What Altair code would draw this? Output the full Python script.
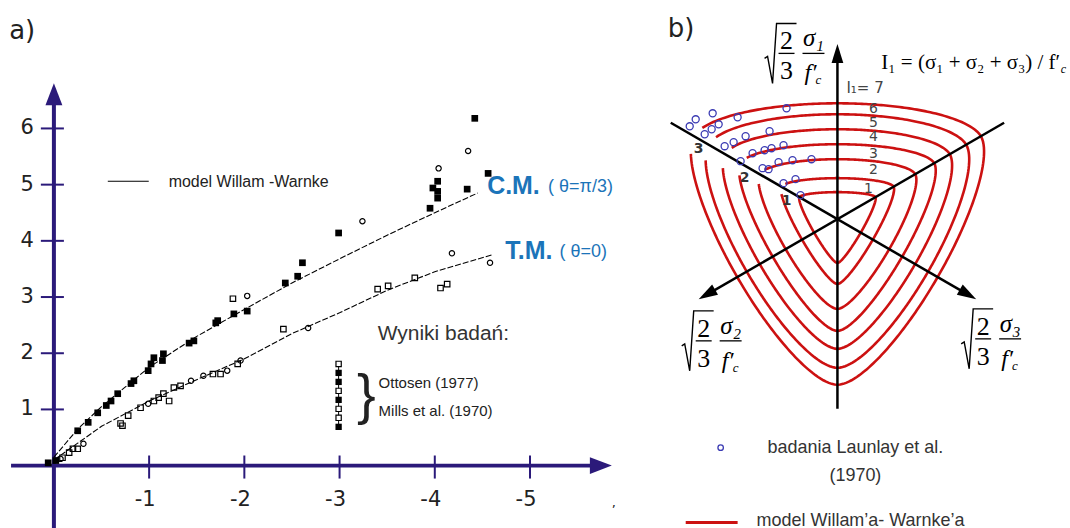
import altair as alt
import numpy as np
import pandas as pd

NAVY = "#2b1a7a"
BLUE = "#1b74b9"
RED = "#cc1111"
PT_BLUE = "#3b3bb3"
TXT = "#222222"

# ================= panel a) data =================
cm_x = [0.0, -0.25, -0.5, -1.0, -1.5, -2.0, -2.5, -3.0, -3.5, -4.0, -4.45]
cm_y = [0.15, 0.65, 1.05, 1.75, 2.3, 2.78, 3.25, 3.68, 4.1, 4.5, 4.85]
tm_x = [0.0, -0.25, -0.5, -1.0, -1.5, -2.0, -2.5, -3.0, -3.5, -4.0, -4.6]
tm_y = [0.1, 0.4, 0.7, 1.15, 1.53, 1.9, 2.35, 2.72, 3.12, 3.45, 3.75]

filled_x = [0.06, -0.02, -0.25, -0.36, -0.46, -0.55, -0.60, -0.67, -0.81, -0.84, -0.99, -1.02,
            -1.05, -1.14, -1.15, -1.42, -1.47, -1.70, -1.72, -1.89, -2.03, -2.43, -2.56,
            -2.61, -2.99, -3.95, -3.98, -4.03, -4.03, -4.03, -4.34, -4.56, -4.42]
filled_y = [0.05, 0.09, 0.62, 0.77, 0.94, 1.07, 1.15, 1.28, 1.46, 1.51, 1.69, 1.81,
            1.92, 1.87, 1.99, 2.18, 2.22, 2.54, 2.58, 2.70, 2.75, 3.25, 3.37,
            3.61, 4.14, 4.58, 4.94, 5.06, 4.88, 4.76, 4.92, 5.20, 6.18]

open_sq_x = [-0.09, -0.16, -0.20, -0.25, -0.70, -0.72, -0.78, -0.91, -1.05, -1.10, -1.15,
             -1.21, -1.26, -1.33, -1.67, -1.75, -1.93, -2.41, -1.88, -3.40, -3.51, -3.79,
             -4.06, -4.13]
open_sq_y = [0.14, 0.23, 0.30, 0.30, 0.75, 0.71, 0.89, 1.03, 1.15, 1.21, 1.28,
             1.15, 1.39, 1.42, 1.63, 1.63, 1.81, 2.43, 2.97, 3.14, 3.20, 3.34,
             3.16, 3.23]

open_ci_x = [-0.07, -0.31, -0.99, -1.44, -1.57, -1.82, -1.96, -2.67, -2.03, -3.24, -4.04,
             -4.35, -4.18, -4.58]
open_ci_y = [0.12, 0.39, 1.10, 1.51, 1.60, 1.69, 1.87, 2.45, 3.02, 4.35, 5.29,
             5.60, 3.78, 3.61]

xtick_vals = [-1, -2, -3, -4, -5]
xtick_labels = ["-1", "-2", "-3", "-4", "-5"]
ytick_vals = [1, 2, 3, 4, 5, 6]
ytick_labels = ["1", "2", "3", "4", "5", "6"]

# legend glyph column (Ottosen / Mills)
leg_col_y = [1.81, 1.65, 1.49, 1.33, 1.17, 1.01, 0.85, 0.69]
leg_col_kind = ["open", "filled", "filled", "open", "filled", "open", "open", "filled"]

# ================= panel b) data =================
levels = [1, 2, 3, 4, 5, 6, 7]
r_tension = [27, 41, 60, 75, 90, 105, 116]
r_compression = [44, 65, 90, 112, 130, 149, 166]

launay_x = [-148, -142, -125, -100, -51, -133, -126, -119, -113, -104, -92, -68, -97,
            -85, -73, -66, -54, -75, -69, -59, -45, -26, -54, -42, -37]
launay_y = [93, 100, 106, 102, 111, 85, 90, 95, 73, 77, 83, 88, 58,
            66, 69, 71, 74, 51, 50, 57, 59, 60, 36, 40, 24]

level_label_text = ["I\u2081= 7", "6", "5", "4", "3", "2", "1"]

# ================= scales =================
XA = alt.Scale(domain=[0.5556, -6.153], nice=False, zero=False)
YA = alt.Scale(domain=[-1.119, 8.259], nice=False, zero=False)
XB = alt.Scale(domain=[-198, 232], nice=False, zero=False)
YB = alt.Scale(domain=[-310, 218], nice=False, zero=False)


def enc(sx, sy):
    return dict(x=alt.X("x:Q", scale=sx, axis=None), y=alt.Y("y:Q", scale=sy, axis=None))


def rules(df, sx, sy, **kw):
    return alt.Chart(df).mark_rule(**kw).encode(
        x=alt.X("x:Q", scale=sx, axis=None), y=alt.Y("y:Q", scale=sy, axis=None),
        x2="x2:Q", y2="y2:Q")


def texts(xs, ys, labels, sx, sy, **kw):
    df = pd.DataFrame({"x": xs, "y": ys, "t": labels})
    return alt.Chart(df).mark_text(**kw).encode(text="t:N", **enc(sx, sy))


def arrows(xs, ys, angs, sx, sy, shape, size, color):
    df = pd.DataFrame({"x": xs, "y": ys, "ang": angs})
    return alt.Chart(df).mark_point(shape=shape, size=size, filled=True, color=color,
                                     opacity=1, strokeWidth=0).encode(
        angle=alt.Angle("ang:Q", scale=None), **enc(sx, sy))


# ================= panel a) =================
a_layers = []
# axes
a_layers.append(rules(pd.DataFrame({"x": [0, 0.45], "y": [-1.12, 0], "x2": [0, -5.75], "y2": [6.6, 0]}),
                      XA, YA, color=NAVY, strokeWidth=4))
# ticks
a_layers.append(rules(pd.DataFrame({"x": xtick_vals, "x2": xtick_vals, "y": [0.18] * 5, "y2": [-0.23] * 5}),
                      XA, YA, color=NAVY, strokeWidth=2))
a_layers.append(rules(pd.DataFrame({"x": [0.137] * 6, "x2": [-0.105] * 6, "y": ytick_vals, "y2": ytick_vals}),
                      XA, YA, color=NAVY, strokeWidth=2))
a_layers.append(arrows([0, -5.744], [6.607, 0], [0, 90], XA, YA,
                       "M-0.77,1L0,-1L0.77,1Z", 484, NAVY))
# tick labels
a_layers.append(texts(xtick_vals, [-0.62] * 5, xtick_labels, XA, YA, align="center", baseline="middle",
                      dx=-4, font="DejaVu Sans", fontSize=21, color=TXT))
a_layers.append(texts([0.21] * 6, ytick_vals, ytick_labels, XA, YA, align="right", baseline="middle",
                      font="DejaVu Sans", fontSize=21, color=TXT))
# model lines
lines = pd.DataFrame({"x": cm_x + tm_x, "y": cm_y + tm_y,
                      "s": ["CM"] * len(cm_x) + ["TM"] * len(tm_x),
                      "i": list(range(len(cm_x))) + list(range(len(tm_x)))})
a_layers.append(alt.Chart(lines).mark_line(color="black", strokeWidth=1.1, strokeDash=[6, 2]).encode(
    detail="s:N", order="i:Q", **enc(XA, YA)))
# data points
a_layers.append(alt.Chart(pd.DataFrame({"x": filled_x, "y": filled_y})).mark_point(
    shape="square", filled=True, color="black", size=45, opacity=1).encode(**enc(XA, YA)))
a_layers.append(alt.Chart(pd.DataFrame({"x": open_sq_x, "y": open_sq_y})).mark_point(
    shape="square", filled=False, color="black", size=30, strokeWidth=1.2, opacity=1).encode(**enc(XA, YA)))
a_layers.append(alt.Chart(pd.DataFrame({"x": open_ci_x, "y": open_ci_y})).mark_point(
    shape="circle", filled=False, color="black", size=28, strokeWidth=1.2, opacity=1).encode(**enc(XA, YA)))
# legend line + texts
a_layers.append(rules(pd.DataFrame({"x": [-0.566], "x2": [-0.996], "y": [5.06], "y2": [5.06]}),
                      XA, YA, color="black", strokeWidth=1.2))
a_layers.append(texts([-1.205], [5.04], ["model Willam -Warnke"], XA, YA, align="left", baseline="middle",
                      font="Liberation Sans", fontSize=16, color=TXT))
a_layers.append(texts([-4.55, -4.74], [4.97, 3.82], ["C.M.", "T.M."], XA, YA, align="left",
                      baseline="middle", font="Liberation Sans", fontSize=25, fontWeight="bold", color=BLUE))
a_layers.append(texts([-5.19, -5.31], [4.95, 3.80], ["( \u03b8=\u03c0/3)", "( \u03b8=0)"], XA, YA,
                      align="left", baseline="middle", font="Liberation Sans", fontSize=18, color=BLUE))
a_layers.append(texts([-3.40], [2.34], ["Wyniki bada\u0144:"], XA, YA, align="left", baseline="middle",
                      font="Liberation Sans", fontSize=21, color="#333333"))
a_layers.append(texts([-3.41, -3.41], [1.47, 0.98], ["Ottosen (1977)", "Mills et al. (1970)"], XA, YA,
                      align="left", baseline="middle", font="Liberation Sans", fontSize=15, color=TXT))
a_layers.append(texts([-3.28], [1.24], ["}"], XA, YA, align="center", baseline="middle",
                      font="Liberation Sans", fontSize=56, fontWeight=300, color=TXT))
a_layers.append(rules(pd.DataFrame({"x": [-2.99], "x2": [-2.99], "y": [leg_col_y[0]], "y2": [leg_col_y[-1]]}),
                      XA, YA, color="black", strokeWidth=1))
leg_df = pd.DataFrame({"x": [-2.99] * len(leg_col_y), "y": leg_col_y, "k": leg_col_kind})
a_layers.append(alt.Chart(leg_df).transform_filter(alt.datum.k == "filled").mark_point(
    shape="square", filled=True, color="black", size=40, opacity=1).encode(**enc(XA, YA)))
a_layers.append(alt.Chart(leg_df).transform_filter(alt.datum.k == "open").mark_point(
    shape="square", filled=True, fill="white", stroke="black", size=28, strokeWidth=1.2,
    opacity=1).encode(**enc(XA, YA)))
a_layers.append(texts([0.47], [7.73], ["a)"], XA, YA, align="left", baseline="middle",
                      font="DejaVu Sans", fontSize=26, color=TXT))
a_layers.append(texts([-5.88], [-0.67], [","], XA, YA, align="center", baseline="middle",
                      font="DejaVu Sans", fontSize=13, color=TXT))

panel_a = alt.layer(*a_layers).properties(width=640, height=528)


# ================= panel b) =================
def ww_radius(theta, rt, rc):
    c = np.cos(theta)
    a = rc ** 2 - rt ** 2
    num = 2 * rc * a * c + rc * (2 * rt - rc) * np.sqrt(4 * a * c ** 2 + 5 * rt ** 2 - 4 * rt * rc)
    den = 4 * a * c ** 2 + (rc - 2 * rt) ** 2
    return num / den


rows = []
for lv, rt, rc in zip(levels, r_tension, r_compression):
    phis = np.arange(0, 361, 1.0) if lv == 1 else np.arange(156, 507, 1.0)
    for i, p in enumerate(phis):
        d = (p - 90) % 120
        th = np.radians(min(d, 120 - d))
        r = ww_radius(th, rt, rc)
        rows.append({"level": lv, "i": i, "x": r * np.cos(np.radians(p)), "y": r * np.sin(np.radians(p))})
curves = pd.DataFrame(rows)

b_layers = []
b_layers.append(alt.Chart(curves).mark_line(color=RED, strokeWidth=2.6).encode(
    detail="level:N", order="i:Q", **enc(XB, YB)))
# axes
b_layers.append(rules(pd.DataFrame({"x": [0, -167, 167], "y": [-190, 96.5, 96.5],
                                    "x2": [0, 133, -133], "y2": [168, -77, -77]}),
                      XB, YB, color="black", strokeWidth=2.5))
b_layers.append(arrows([0, -130.8, 130.8], [166, -75.5, -75.5], [0, 240, 120], XB, YB,
                       "M-0.62,1L0,-1L0.62,1Z", 361, "black"))
# data points
b_layers.append(alt.Chart(pd.DataFrame({"x": launay_x, "y": launay_y})).mark_point(
    shape="circle", filled=False, color=PT_BLUE, size=50, strokeWidth=1.3, opacity=1).encode(**enc(XB, YB)))
# level labels
b_layers.append(texts([9], [131], [level_label_text[0]], XB, YB, align="left", baseline="middle",
                      font="DejaVu Sans", fontSize=15, color="#444444"))
b_layers.append(texts([36, 36, 36, 36, 36, 31], [110, 96, 82, 65, 49, 30], level_label_text[1:], XB, YB,
                      align="center", baseline="middle", font="DejaVu Sans", fontSize=14, color="#444444"))
b_layers.append(texts([-139, -93, -51], [70, 41, 18], ["3", "2", "1"], XB, YB, align="center",
                      baseline="middle", font="DejaVu Sans", fontSize=14, fontWeight="bold", color="#333333"))
b_layers.append(texts([-170], [190], ["b)"], XB, YB, align="left", baseline="middle",
                      font="DejaVu Sans", fontSize=26, color=TXT))
b_layers.append(texts([44], [156], ["I\u2081 = (\u03c3\u2081 + \u03c3\u2082 + \u03c3\u2083) / f\u2032"], XB, YB,
                      align="left", baseline="middle", font="Liberation Serif", fontSize=21, color="black"))
b_layers.append(texts([229], [150], ["c"], XB, YB, align="right", baseline="middle",
                      font="Liberation Serif", fontSize=12, fontStyle="italic", color="black"))


def sqrt_frac(ax, ay, sub):
    out = []
    rad = pd.DataFrame({"x": [ax - 22, ax - 19, ax - 14, ax - 10, ax + 10],
                        "y": [ay - 5, ay - 3, ay - 30, ay + 30, ay + 30], "i": list(range(5))})
    out.append(alt.Chart(rad).mark_line(color="black", strokeWidth=1.4).encode(order="i:Q", **enc(XB, YB)))
    out.append(rules(pd.DataFrame({"x": [ax - 8, ax + 16], "x2": [ax + 8, ax + 38], "y": [ay, ay], "y2": [ay, ay]}),
                     XB, YB, color="black", strokeWidth=1.3))
    out.append(texts([ax, ax], [ay + 4, ay - 26], ["2", "3"], XB, YB, align="center", baseline="alphabetic",
                     font="Liberation Serif", fontSize=26, color="black"))
    out.append(texts([ax + 27], [ay + 7], ["\u03c3" + sub], XB, YB, align="center", baseline="alphabetic",
                     font="Liberation Serif", fontSize=25, fontStyle="italic", color="black"))
    out.append(texts([ax + 24], [ay - 27], ["f\u2032"], XB, YB, align="center", baseline="alphabetic",
                     font="Liberation Serif", fontSize=24, fontStyle="italic", color="black"))
    out.append(texts([ax + 29], [ay - 31], ["c"], XB, YB, align="left", baseline="alphabetic",
                     font="Liberation Serif", fontSize=13, fontStyle="italic", color="black"))
    return out


b_layers += sqrt_frac(-51, 166, "\u2081")
b_layers += sqrt_frac(-134, -122, "\u2082")
b_layers += sqrt_frac(146, -120, "\u2083")

# legend
b_layers.append(alt.Chart(pd.DataFrame({"x": [-117], "y": [-229]})).mark_point(
    shape="circle", filled=False, color=PT_BLUE, size=30, strokeWidth=1.3, opacity=1).encode(**enc(XB, YB)))
b_layers.append(texts([18, 18], [-229, -257], ["badania Launlay et al.", "(1970)"], XB, YB, align="center",
                      baseline="middle", font="Liberation Sans", fontSize=18, color="#333333"))
b_layers.append(rules(pd.DataFrame({"x": [-152], "x2": [-100], "y": [-304], "y2": [-304]}),
                      XB, YB, color=RED, strokeWidth=3))
b_layers.append(texts([-81], [-302], ["model Willam\u2019a- Warnke\u2019a"], XB, YB, align="left",
                      baseline="middle", font="Liberation Sans", fontSize=18, color="#333333"))

panel_b = alt.layer(*b_layers).properties(width=430, height=528)

chart = alt.hconcat(panel_a, panel_b, spacing=0).properties(
    padding=0, bounds="flush", background="white"
).configure_view(stroke="transparent")

chart.save("out.html", embed_options={"renderer": "svg", "actions": False})
